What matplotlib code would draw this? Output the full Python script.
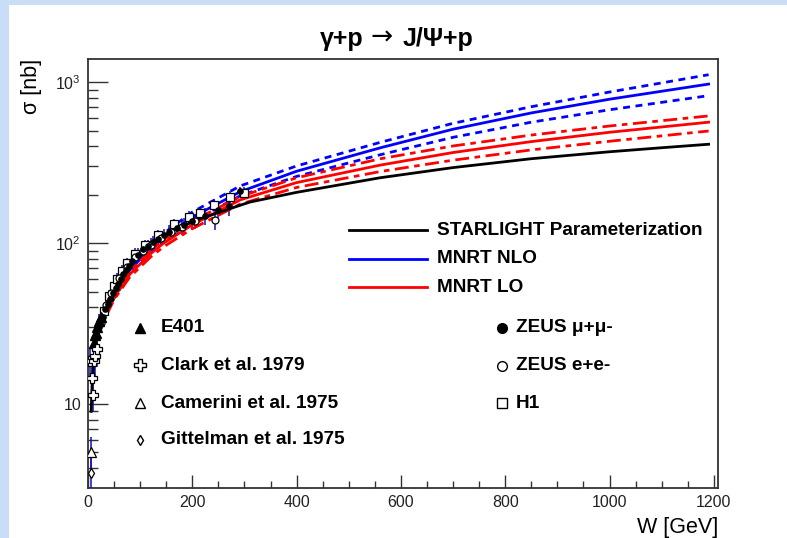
import numpy as np
import matplotlib
matplotlib.use("Agg")
import matplotlib.pyplot as plt
from matplotlib.lines import Line2D
from matplotlib.patches import Rectangle
from matplotlib.ticker import MultipleLocator, LogLocator, FuncFormatter, NullFormatter

plt.rcParams['font.family'] = ['Liberation Sans', 'DejaVu Sans']
plt.rcParams['mathtext.fontset'] = 'custom'
plt.rcParams['mathtext.rm'] = 'Liberation Sans'
plt.rcParams['mathtext.it'] = 'Liberation Sans:italic'
plt.rcParams['mathtext.bf'] = 'Liberation Sans:bold'

# ---------------- curves ----------------
W_star = [6, 8, 10, 13, 17, 22, 30, 42, 62, 87, 120, 165, 215, 310, 400, 560, 700, 850, 1000, 1100, 1190]
s_star = [9, 13.5, 17, 21.5, 26.5, 31, 37, 46, 62, 80, 99, 121, 142, 180, 207, 255, 295, 335, 370, 392, 412]

W_th = [36, 50, 80, 120, 145, 200, 292, 400, 561, 700, 850, 1000, 1190]
s_nlo = [38, 47, 68, 93, 108, 145, 209, 280, 392, 511, 645, 785, 975]
s_nlo_up = [39, 49, 71, 98, 115, 156, 227, 302, 424, 556, 705, 870, 1115]
s_nlo_lo = [37, 45.5, 65, 88, 102, 137, 197, 260, 355, 455, 565, 675, 826]
s_lo = [37, 46, 64, 86, 100, 130, 186, 238, 306, 366, 428, 489, 565]
s_lo_up = [38, 47.5, 66.5, 90, 105, 137, 195, 255, 335, 402, 470, 535, 618]
s_lo_lo = [36, 44.5, 61.5, 82, 95, 123, 175, 222, 279, 328, 380, 430, 498]

# ---------------- data points ----------------
W_e401 = [12, 14, 16, 18, 21, 24]
s_e401 = [24, 27, 27.5, 30, 33, 35]
e_e401 = [3, 3, 3, 3, 3.5, 4]

W_clark = [4.5, 8, 9, 12, 14, 18]
s_clark = [18.5, 14.5, 11.4, 18.5, 20, 22]
e_clark = [4, 3, 2.5, 4, 5, 5]

W_cam = [5.0]
s_cam = [5.0]
e_cam = [1.2]

W_git = [5.0]
s_git = [3.7]
e_git = [0.9]

W_h1 = [30, 40, 50, 55, 65, 75, 90, 110, 135, 165, 193, 215, 241, 273, 300]
s_h1 = [38, 47, 54, 60, 67, 75, 86, 97, 112, 132, 146, 155, 173, 195, 205]
e_h1 = [4, 4, 5, 5, 6, 6, 7, 8, 9, 10, 12, 14, 15, 17, 20]

W_zee = [25, 35, 45, 60, 75, 90, 105, 120, 140, 160, 180, 205, 244]
s_zee = [32, 41, 49, 61, 71, 82, 90, 98, 108, 118, 126, 137, 140]
e_zee = [4, 4, 5, 6, 7, 8, 9, 10, 11, 12, 14, 15, 20]

W_zmm = [22, 28, 33, 38, 43, 48, 53, 58, 63, 68, 73, 78, 85, 95, 105, 115, 125,
         135, 145, 155, 170, 185, 200, 225, 250, 270, 292]
s_zmm = [30, 35, 39, 42, 45, 49, 53, 56, 60, 64, 68, 72, 77, 85, 92, 96, 102,
         106, 112, 118, 124, 130, 137, 148, 160, 170, 210]
e_zmm = [4, 4, 4, 4, 5, 5, 5, 5, 6, 6, 6, 7, 7, 8, 8, 9, 9,
         10, 11, 12, 13, 14, 16, 18, 20, 22, 15]

# ---------------- figure ----------------
fig = plt.figure(figsize=(7.87, 5.38), dpi=100)
fig.patch.set_facecolor('white')
# slide background strips
fig.patches.append(Rectangle((0, 0), 9 / 787, 1, transform=fig.transFigure,
                             facecolor='#c9def6', edgecolor='none', zorder=0))
fig.patches.append(Rectangle((0, 1 - 5 / 538), 1, 5 / 538, transform=fig.transFigure,
                             facecolor='#c9def6', edgecolor='none', zorder=0))

L, R, T, B = 88, 718, 59, 488
ax = fig.add_axes([L / 787, 1 - B / 538, (R - L) / 787, (B - T) / 538])
ax.set_yscale('log')
ax.set_xlim(0, 1208)
ax.set_ylim(3.006, 1396)

blue = '#0000ff'
red = '#ff0000'

# error bars
ebkw = dict(fmt='none', ecolor='#1010c0', elinewidth=1.1, capsize=0, zorder=3)
for Wv, sv, ev in [(W_e401, s_e401, e_e401), (W_clark, s_clark, e_clark),
                   (W_cam, s_cam, e_cam), (W_git, s_git, e_git),
                   (W_h1, s_h1, e_h1), (W_zee, s_zee, e_zee), (W_zmm, s_zmm, e_zmm)]:
    ax.errorbar(Wv, sv, yerr=ev, **ebkw)

# theory curves
ax.plot(W_th, s_nlo_up, color=blue, lw=2, ls=(0, (2.5, 2)), zorder=4)
ax.plot(W_th, s_nlo_lo, color=blue, lw=2, ls=(0, (2.5, 2)), zorder=4)
ax.plot(W_th, s_nlo, color=blue, lw=2, zorder=4)
ax.plot(W_th, s_lo_up, color=red, lw=2, ls=(0, (5, 2, 2, 2)), zorder=4)
ax.plot(W_th, s_lo_lo, color=red, lw=2, ls=(0, (5, 2, 2, 2)), zorder=4)
ax.plot(W_th, s_lo, color=red, lw=2, zorder=4)
ax.plot(W_star, s_star, color='black', lw=2, zorder=5)

# markers
mk = dict(ls='none', zorder=6)
ax.plot(W_h1, s_h1, marker='s', ms=5.5, mfc='white', mec='black', mew=0.9, **mk)
ax.plot(W_zee, s_zee, marker='o', ms=5, mfc='white', mec='black', mew=0.9, **mk)
ax.plot(W_zmm, s_zmm, marker='o', ms=3.8, mfc='black', mec='black', **mk)
ax.plot(W_e401, s_e401, marker='^', ms=6.5, mfc='black', mec='black', **mk)
ax.plot(W_clark, s_clark, marker='P', ms=7.5, mfc='white', mec='black', mew=0.9, **mk)
ax.plot(W_cam, s_cam, marker='^', ms=6.5, mfc='white', mec='black', mew=0.9, **mk)
ax.plot(W_git, s_git, marker='d', ms=5.5, mfc='white', mec='black', mew=0.9, **mk)

# axes styling
for sp in ['top', 'right', 'left', 'bottom']:
    ax.spines[sp].set_color('#333333')
    ax.spines[sp].set_linewidth(1.3)
ax.xaxis.set_major_locator(MultipleLocator(200))
ax.xaxis.set_minor_locator(MultipleLocator(50))
ax.yaxis.set_major_locator(LogLocator(base=10))
ax.yaxis.set_minor_locator(LogLocator(base=10, subs=np.arange(2, 10)))
ax.yaxis.set_minor_formatter(NullFormatter())


def yfmt(v, pos):
    e = int(round(np.log10(v)))
    if e == 1:
        return '10'
    return r'$10^{%d}$' % e


ax.yaxis.set_major_formatter(FuncFormatter(yfmt))
ax.tick_params(axis='x', which='major', direction='in', length=9.2, width=1, color='#333333',
               labelsize=11.5, pad=5, top=False)
ax.tick_params(axis='x', which='minor', direction='in', length=4.8, width=1, color='#333333', top=False)
ax.tick_params(axis='y', which='major', direction='in', length=14.2, width=1, color='#333333',
               labelsize=11.5, pad=5, right=False)
ax.tick_params(axis='y', which='minor', direction='in', length=7, width=1, color='#333333', right=False)
for lab in ax.get_xticklabels() + ax.get_yticklabels():
    lab.set_color('#222222')

# title built from three pieces so the arrow sits at mid-height
title_base = 1 - 46 / 538
fig.text(363 / 787, title_base, 'γ+p', ha='right', va='baseline', fontsize=18, fontweight='bold')
fig.text(382 / 787, 1 - 37.5 / 538, '→', ha='center', va='center', fontsize=19,
         family='DejaVu Sans')
fig.text(403 / 787, title_base, 'J/Ψ+p', ha='left', va='baseline', fontsize=18, fontweight='bold')

fig.text(31 / 787, 1 - 59 / 538, 'σ [nb]', rotation=90, ha='center', va='top', fontsize=15.5)
fig.text(718 / 787, 1 - 527 / 538, 'W [GeV]', ha='right', va='center', fontsize=15.5)


# legends (manual, axes-fraction placement)
def ax_xy(px, py):
    return (px - L) / (R - L), (B - py) / (B - T)


lfs = 13.7
line_rows = [('STARLIGHT Parameterization', 'black', 230),
             ('MNRT NLO', blue, 258.5),
             ('MNRT LO', red, 287)]
for txt, col, py in line_rows:
    x0, y0 = ax_xy(349, py)
    x1, _ = ax_xy(427, py)
    xt, _ = ax_xy(437, py)
    ax.add_line(Line2D([x0, x1], [y0, y0], color=col, lw=2, transform=ax.transAxes))
    ax.text(xt, y0, txt, transform=ax.transAxes, ha='left', va='center',
            fontsize=lfs, fontweight='bold')

left_rows = [('E401', dict(marker='^', ms=7.5, mfc='black', mec='black'), 328),
             ('Clark et al. 1979', dict(marker='P', ms=8.5, mfc='white', mec='black', mew=1), 365),
             ('Camerini et al. 1975', dict(marker='^', ms=7.5, mfc='white', mec='black', mew=1), 403),
             ('Gittelman et al. 1975', dict(marker='d', ms=5.5, mfc='white', mec='black', mew=1), 439.5)]
for txt, kw, py in left_rows:
    xm, ym = ax_xy(140, py)
    xt, _ = ax_xy(161, py)
    ax.plot([xm], [ym], transform=ax.transAxes, ls='none', clip_on=False, **kw)
    ax.text(xt, ym, txt, transform=ax.transAxes, ha='left', va='center',
            fontsize=lfs, fontweight='bold')

right_rows = [('ZEUS μ+μ-', dict(marker='o', ms=7, mfc='black', mec='black'), 328),
              ('ZEUS e+e-', dict(marker='o', ms=7, mfc='white', mec='black', mew=1), 365.5),
              ('H1', dict(marker='s', ms=7, mfc='white', mec='black', mew=1), 403)]
for txt, kw, py in right_rows:
    xm, ym = ax_xy(502, py)
    xt, _ = ax_xy(516, py)
    ax.plot([xm], [ym], transform=ax.transAxes, ls='none', clip_on=False, **kw)
    ax.text(xt, ym, txt, transform=ax.transAxes, ha='left', va='center',
            fontsize=lfs, fontweight='bold')

fig.savefig('out.png', dpi=100, facecolor='white')
